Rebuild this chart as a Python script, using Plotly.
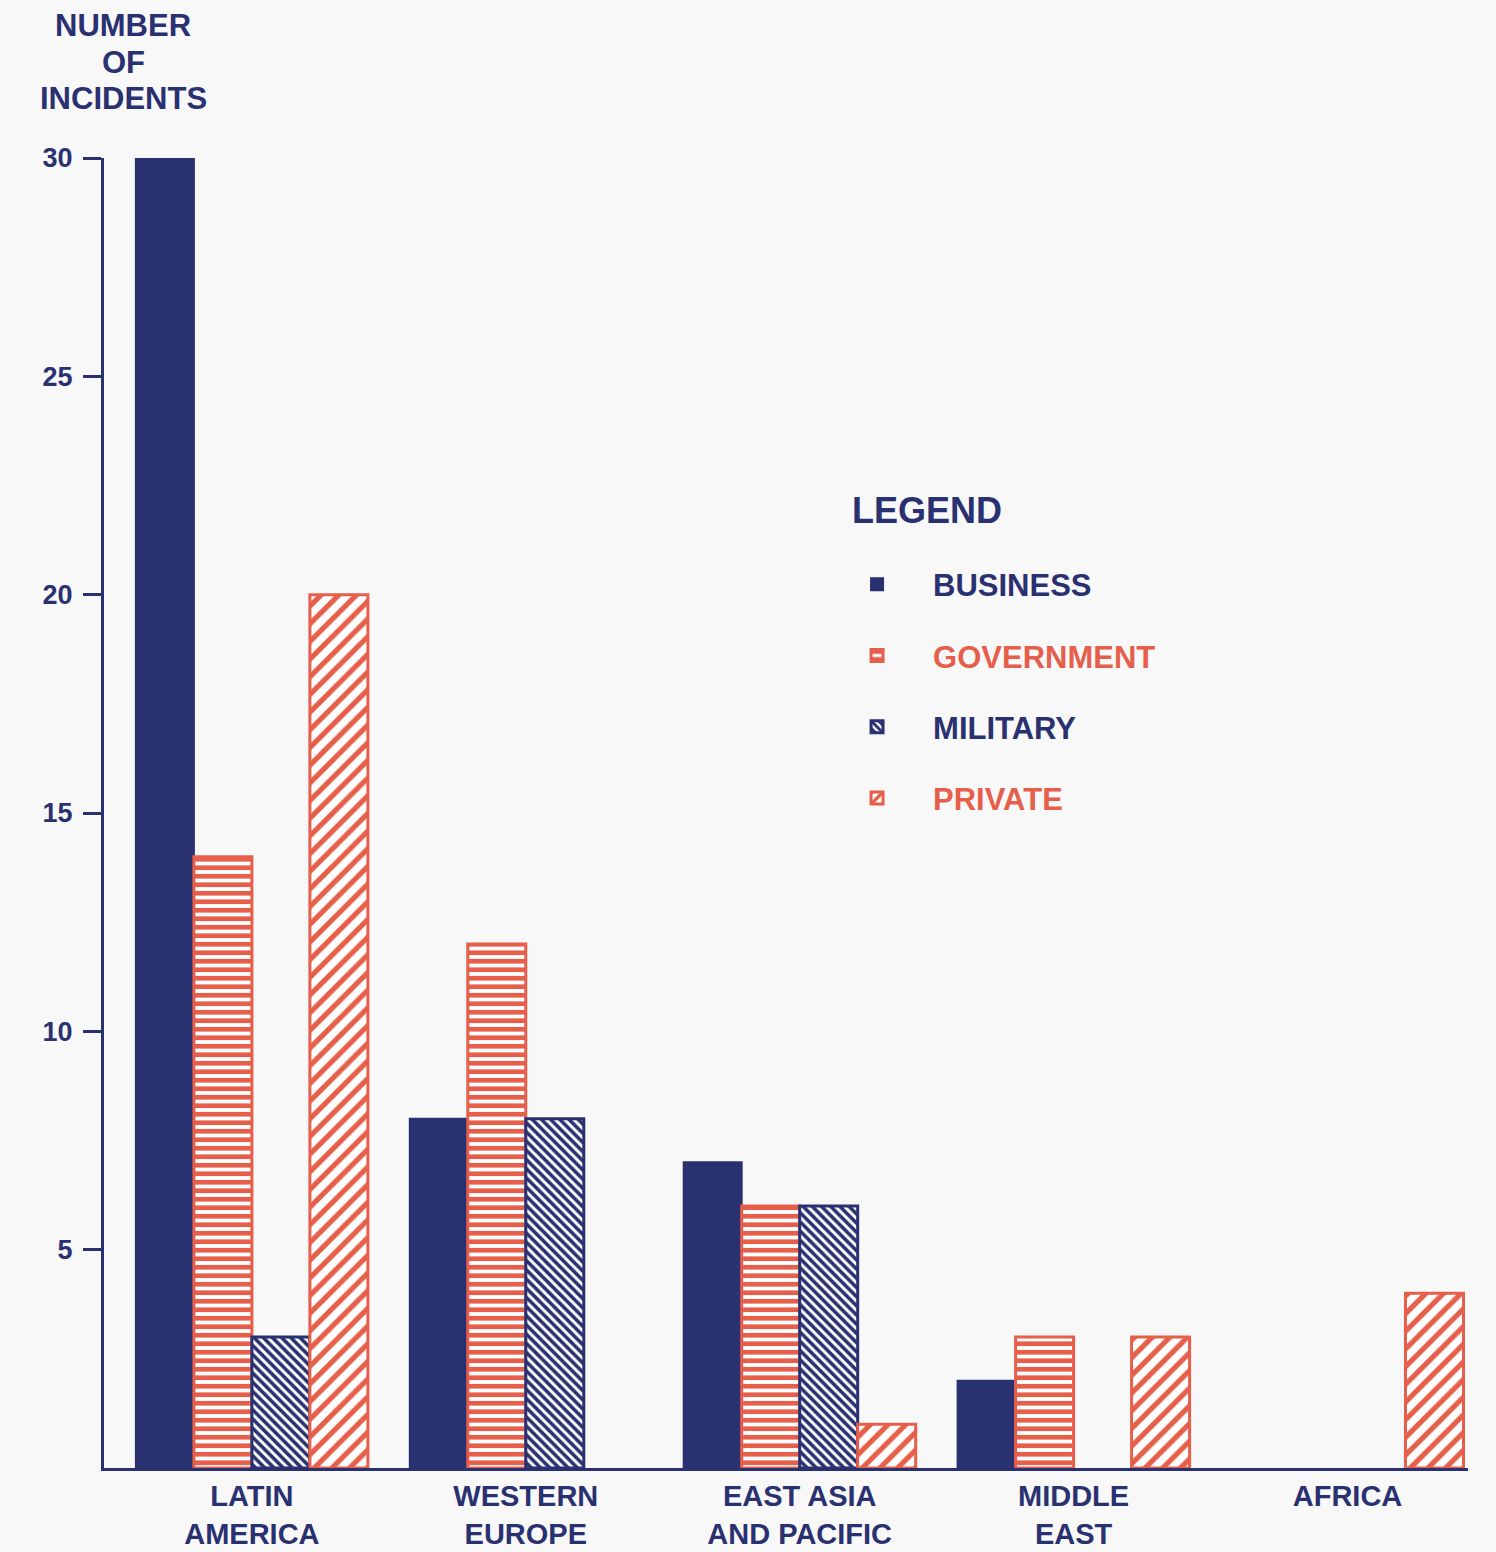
import plotly.graph_objects as go

# ---- data ----
regions = ["LATIN AMERICA", "WESTERN EUROPE", "EAST ASIA AND PACIFIC", "MIDDLE EAST", "AFRICA"]
region_labels = ["LATIN<br>AMERICA", "WESTERN<br>EUROPE", "EAST ASIA<br>AND PACIFIC", "MIDDLE<br>EAST", "AFRICA"]
business = [30, 8, 7, 2, None]
government = [14, 12, 6, 3, None]
military = [3, 8, 6, None, None]
private = [20, None, 1, 3, 4]
y_ticks = [5, 10, 15, 20, 25, 30]
y_title_lines = ["NUMBER", "OF", "INCIDENTS"]

NAVY = "#2a3170"
RED = "#e65f4b"
BG = "#f8f8f9"
FONT = "Liberation Sans, Arial, sans-serif"

fig = go.Figure()

fig.add_trace(go.Bar(
    x=regions, y=business, name=f'<span style="color:{NAVY}">BUSINESS</span>',
    legendgroup="b",
    marker=dict(color=NAVY, line=dict(color=NAVY, width=2)),
))
fig.add_trace(go.Bar(
    x=regions, y=government, name=f'<span style="color:{RED}">GOVERNMENT</span>',
    legendgroup="g",
    marker=dict(color="white", line=dict(color=RED, width=3),
                pattern=dict(shape="-", fgcolor=RED, bgcolor="white", fgopacity=1,
                             size=8.5, solidity=0.55)),
))
fig.add_trace(go.Bar(
    x=regions, y=military, name=f'<span style="color:{NAVY}">MILITARY</span>',
    legendgroup="m",
    marker=dict(color="white", line=dict(color=NAVY, width=3),
                pattern=dict(shape="\\", fgcolor=NAVY, bgcolor="white", fgopacity=1,
                             size=6.5, solidity=0.55)),
))
fig.add_trace(go.Bar(
    x=regions, y=private, name=f'<span style="color:{RED}">PRIVATE</span>',
    legendgroup="p",
    marker=dict(color="white", line=dict(color=RED, width=3),
                pattern=dict(shape="/", fgcolor=RED, bgcolor="white", fgopacity=1,
                             size=12.5, solidity=0.42)),
))

# y-axis title as three stacked lines (paper coords over the plot area 158..1468 px)
title_annotations = [
    dict(
        text=line, xref="paper", yref="paper", x=0.014, y=(1468 - (25 + 37 * i)) / 1310,
        xanchor="center", yanchor="middle", showarrow=False,
        font=dict(size=31, color=NAVY, family=FONT, weight="bold"),
    )
    for i, line in enumerate(y_title_lines)
]

fig.update_layout(
    width=1496, height=1552,
    margin=dict(l=104, r=28, t=158, b=84),
    paper_bgcolor=BG, plot_bgcolor=BG,
    barmode="group", bargap=0.153, bargroupgap=0,
    font=dict(family=FONT, color=NAVY, size=28, weight="bold"),
    showlegend=True,
    legend=dict(
        x=0.5257, y=0.695, xanchor="left", yanchor="top",
        bgcolor="rgba(0,0,0,0)",
        font=dict(size=31, family=FONT, weight="bold"),
        tracegroupgap=28,
        itemwidth=102,
    ),
    xaxis=dict(
        type="category",
        tickmode="array", tickvals=regions, ticktext=region_labels,
        range=[-0.54, 4.44],
        showline=True, linecolor=NAVY, linewidth=3,
        ticks="", showgrid=False, zeroline=False,
        tickfont=dict(size=29, color=NAVY, family=FONT, weight="bold"),
        ticklabelstandoff=0,
        automargin=False,
    ),
    yaxis=dict(
        range=[0, 30],
        tickmode="array", tickvals=y_ticks,
        showline=True, linecolor=NAVY, linewidth=3,
        ticks="outside", ticklen=18, tickwidth=3, tickcolor=NAVY,
        showgrid=False, zeroline=False,
        tickfont=dict(size=27, color=NAVY, family=FONT, weight="bold"),
        ticklabelstandoff=5,
        automargin=False,
    ),
    annotations=title_annotations + [
        dict(
            text="LEGEND",
            xref="paper", yref="paper", x=0.547, y=0.731,
            xanchor="left", yanchor="middle", showarrow=False,
            font=dict(size=36, color=NAVY, family=FONT, weight="bold"),
        ),
    ],
)

fig.write_html(
    "out.html",
    config={"displayModeBar": False},
    post_script="document.body.style.margin='0px';",
)
